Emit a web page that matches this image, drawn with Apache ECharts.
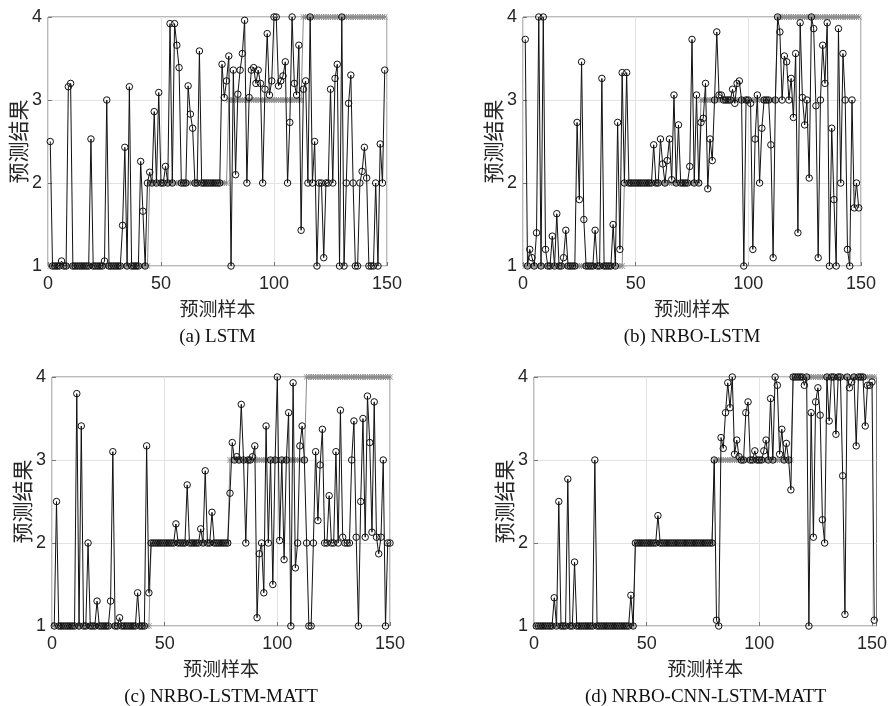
<!DOCTYPE html>
<html>
<head>
<meta charset="utf-8">
<script src="https://cdn.jsdelivr.net/npm/echarts@6/dist/echarts.min.js"></script>
<style>
  html, body { margin: 0; padding: 0; background: #fff; }
  #chart { width: 890px; height: 706px; }
</style>
</head>
<body>
<div id="chart"></div>
<script>
// class counts of the true labels (1, 2, 3, 4)
const trueRunsA = [44, 35, 33, 37];
const trueRunsB = [44, 34, 34, 37];
const trueRunsC = [43, 35, 34, 38];
const trueRunsD = [44, 35, 35, 37];

// predicted values, sample 1..N
const predA = [
  2.5,1,1,1,1,1.06,1,1,3.16,3.2,
  1,1,1,1,1,1,1,1,2.53,1,
  1,1,1,1,1.06,3.0,1,1,1,1,
  1,1,1.49,2.43,1,3.16,1,1,1,1,
  2.26,1.66,1,2,2.13,2,2.86,2,3.09,2,
  2,2.2,2,3.92,2,3.92,3.66,3.39,2,2,
  2,3.17,2.83,2.66,2,2,3.59,2,2,2,
  2,2,2,2,2,2,3.43,3.03,3.23,3.53,
  1,3.36,2.1,3.07,3.36,3.56,3.96,2,3.03,3.36,
  3.39,3.2,3.36,3.2,2,3.13,3.8,3.06,3.23,4,
  4,3.17,3.23,3.29,3.46,2,2.73,4,3.2,3.06,
  3.66,1.43,3.13,3.23,2,4,2,2.5,1,2,
  2,1.1,2,2,3.13,2,3.26,3.43,1,4,
  1,2,2.96,3.3,2,1,1,2,2.14,2.43,
  2.06,1,1,1,2,1,2.47,2,3.36
];
const predB = [
  3.73,1,1.2,1.1,1,1.4,4,1,4,1.2,
  1,1,1.36,1,1.63,1,1,1.1,1.43,1,
  1,1,1,2.73,1.8,3.46,1.56,1,1,1,
  1,1.43,1,1,3.26,1,1,1,1,1.5,
  1,2.73,1.2,3.33,2,3.33,2,2,2,2,
  2,2,2,2,2,2,2,2.46,2,2,
  2.53,2.23,2,2.27,2.53,2.04,3.06,2,2.7,2,
  2,2,2,2.2,3.73,2,3.06,2,2.73,2.78,
  3.2,1.93,2.53,2.27,3.0,3.82,3.06,3.06,3,3,
  3,3,3.13,2.96,3.2,3.23,3,1,3,3,
  2.96,1.2,2.53,3.06,2,2.66,3,3,3,2.46,
  1.1,3,4,3.82,3,3.53,3.46,3,3.26,2.79,
  3.56,1.4,3.93,3.03,2.7,3,2.06,4,3.86,2.93,
  1.1,3,3.66,3.2,3.93,1,2.66,1.8,1,3.86,
  2,3.56,3,1.2,1,3,1.7,2,1.7
];
const predC = [
  1,2.5,1,1,1,1,1,1,1,1,
  3.8,1,3.41,1,1,2,1,1,1,1.3,
  1,1,1,1,1,1.3,3.1,1,1,1.1,
  1,1,1,1,1,1,1,1.4,1,1,
  1,3.17,1.4,2,2,2,2,2,2,2,
  2,2,2,2,2.23,2,2,2,2,2.7,
  2,2,2,2,2,2.17,2,2.87,2,2,
  2.37,2,2,2,2,2,2,2,2.6,3.21,
  3.0,3.04,3,3.67,3,2,3,3,3.04,3.17,
  1.1,1.87,2,1.4,3.41,2,3,1.5,3,4,
  2.03,3,1.8,3,3.57,1,3.93,1.7,2,3.17,
  3.41,3,2,1,1,2,3.1,2.27,2.94,3.37,
  2,2,2.57,2,2,3.1,2,3.6,2.07,2,
  2,2,3,3.47,2.07,1,2.5,3.5,2.07,3.77,
  3.21,2.13,3.7,2.07,1.87,2.07,3,1,2,2
];
const predD = [
  1,1,1,1,1,1,1,1,1.34,1,
  2.5,1,1,1,2.77,1,1,1.77,1,1,
  1,1,1,1,1,1,3.0,1,1,1,
  1,1,1,1,1,1,1,1,1,1,
  1,1,1.37,1,2,2,2,2,2,2,
  2,2,2,2,2.33,2,2,2,2,2,
  2,2,2,2,2,2,2,2,2,2,
  2,2,2,2,2,2,2,2,2,3,
  1.07,1,3.27,3.14,3.57,3.93,3.63,4,3.07,3.24,
  3.04,3,3,3.57,3.7,3,3,3.11,3,3,
  3,3.11,3.24,3,3.74,3,4,3.9,3.07,3.37,
  3,3.2,3,2.64,4,4,4,4,4,3.9,
  4,1,3.57,2.07,3.7,3.87,3.54,2.28,2,4,
  3.47,4,4,3.31,4,4,2.81,1.14,4,3.87,
  3.94,4,3.17,4,4,4,3.41,3.9,3.9,3.94,1.07
];

const xTicks = [0, 50, 100, 150];
const yTicks = [1, 2, 3, 4];
const captions = ['(a) LSTM', '(b) NRBO-LSTM', '(c) NRBO-LSTM-MATT', '(d) NRBO-CNN-LSTM-MATT'];

// panel boxes in pixels
const panels = [
  { left: 48, top: 17, width: 339, height: 249, xMax: 150, pred: predA, runs: trueRunsA },
  { left: 523, top: 17, width: 338, height: 249, xMax: 150, pred: predB, runs: trueRunsB },
  { left: 52, top: 377, width: 338, height: 249, xMax: 150, pred: predC, runs: trueRunsC },
  { left: 534, top: 377, width: 343, height: 249, xMax: 152, pred: predD, runs: trueRunsD }
];

// MATLAB-like '*' marker
const star = 'path://M4.5 0L5.5 0L5.5 10L4.5 10Z M0 4.5L10 4.5L10 5.5L0 5.5Z M0.7 0L10 9.3L9.3 10L0 0.7Z M9.3 0L10 0.7L0.7 10L0 9.3Z';

function expandRuns (runs) {
  let out = [];
  runs.forEach((n, k) => {
    for (let i = 0; i < n; i++) out.push(k + 1);
  });
  return out;
}

const tickFont = { fontFamily: 'Liberation Sans, Arial, sans-serif', fontSize: 18, color: '#262626' };
const cjkFont = 'Noto Sans CJK SC, sans-serif';

let grid = [], xAxis = [], yAxis = [], series = [], graphic = [];

panels.forEach((p, i) => {
  grid.push({
    left: p.left, top: p.top, width: p.width, height: p.height,
    show: true, borderColor: '#777', borderWidth: 1, backgroundColor: '#fff'
  });
  xAxis.push({
    type: 'value', gridIndex: i, min: 0, max: p.xMax, interval: 50,
    name: '预测样本', nameLocation: 'middle', nameGap: 33,
    nameTextStyle: { fontFamily: cjkFont, fontSize: 19, color: '#262626' },
    axisLine: { show: false },
    axisTick: { show: true, inside: true, length: 4, lineStyle: { color: '#777' }, customValues: xTicks },
    axisLabel: Object.assign({ margin: 9, customValues: xTicks }, tickFont),
    splitLine: { show: true, lineStyle: { color: '#e3e3e3', width: 1 } }
  });
  yAxis.push({
    type: 'value', gridIndex: i, min: 1, max: 4, interval: 1,
    name: '预测结果', nameLocation: 'middle', nameGap: 18,
    nameTextStyle: { fontFamily: cjkFont, fontSize: 21, color: '#262626' },
    axisLine: { show: false },
    axisTick: { show: true, inside: true, length: 4, lineStyle: { color: '#777' } },
    axisLabel: Object.assign({ margin: 6, customValues: yTicks }, tickFont),
    splitLine: { show: true, lineStyle: { color: '#e3e3e3', width: 1 } }
  });
  let truth = expandRuns(p.runs);
  series.push({
    type: 'line', xAxisIndex: i, yAxisIndex: i,
    data: truth.map((v, k) => [k + 1, v]),
    symbol: star, symbolSize: 6, showAllSymbol: true,
    lineStyle: { color: '#8a8a8a', width: 1 },
    itemStyle: { color: '#8a8a8a' },
    z: 2
  });
  series.push({
    type: 'line', xAxisIndex: i, yAxisIndex: i,
    data: p.pred.map((v, k) => [k + 1, v]),
    symbol: 'circle', symbolSize: 6.5, showAllSymbol: true,
    lineStyle: { color: '#111', width: 1 },
    itemStyle: { color: 'rgba(0,0,0,0)', borderColor: '#111', borderWidth: 1 },
    z: 3
  });
  graphic.push({
    type: 'text',
    x: p.left + p.width / 2,
    y: p.top + p.height + 71,
    style: {
      text: captions[i], textAlign: 'center', textVerticalAlign: 'middle',
      font: '19px "Liberation Serif", "Times New Roman", serif', fill: '#111'
    }
  });
});

let chart = echarts.init(document.getElementById('chart'));
chart.setOption({
  animation: false,
  backgroundColor: '#fff',
  grid: grid,
  xAxis: xAxis,
  yAxis: yAxis,
  series: series,
  graphic: graphic
});
</script>
</body>
</html>
